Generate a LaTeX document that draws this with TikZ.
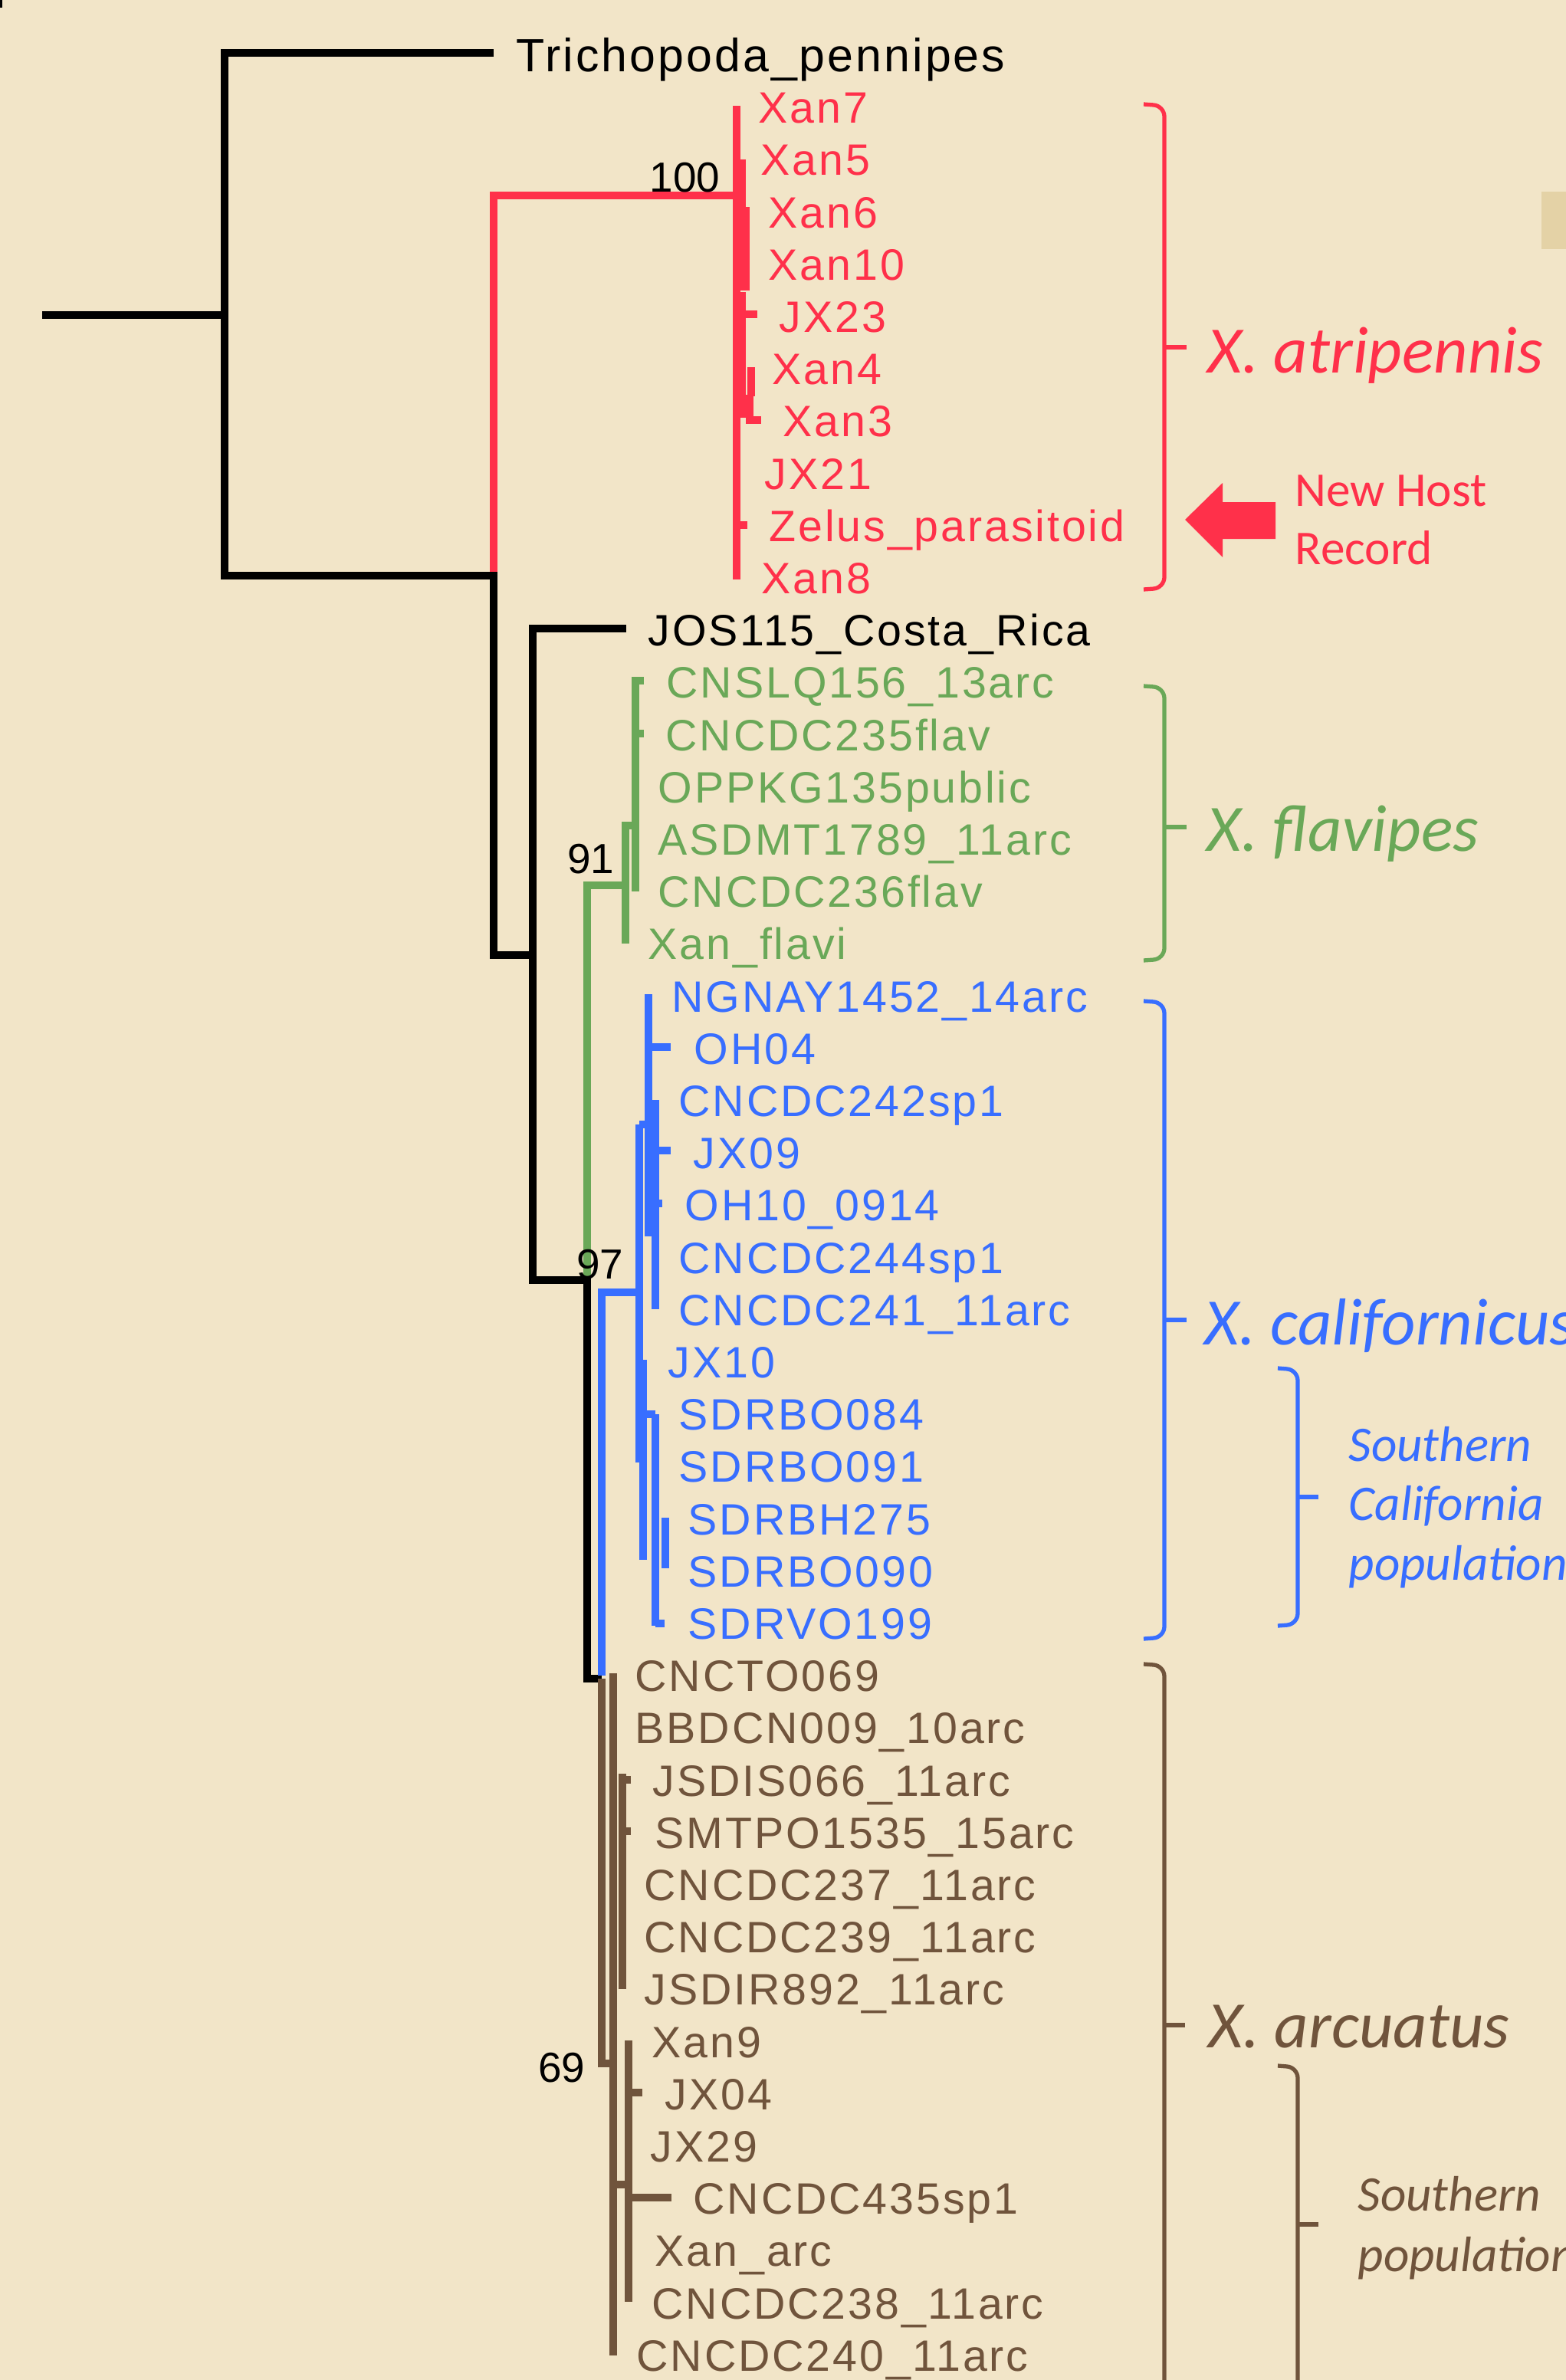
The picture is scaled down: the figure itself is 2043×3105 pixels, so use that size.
\documentclass[tikz,border=0pt]{standalone}
\usepackage{fontspec}
\setmainfont{Liberation Sans}
\newfontfamily\taxfont{Liberation Sans}[LetterSpace=5.0]
\newfontfamily\calfont{Carlito}
\definecolor{bg}{RGB}{242,229,200}
\definecolor{bgdark}{RGB}{228,210,166}
\definecolor{tred}{RGB}{255,48,74}
\definecolor{tgreen}{RGB}{106,168,88}
\definecolor{tblue}{RGB}{56,110,255}
\definecolor{tbrown}{RGB}{112,84,60}
\tikzset{
  br/.style={line width=3.1pt, line join=miter},
  brt/.style={line width=2.9pt, line join=miter},
  nub/.style={line width=2.6pt},
  brace/.style={line width=1.5pt, rounded corners=4pt},
  lab/.style={anchor=base west, inner sep=0pt, font=\taxfont\fontsize{16.3}{19}\selectfont},
  sup/.style={anchor=base east, inner sep=0pt, font=\fontsize{15.6}{18}\selectfont, text=black},
  spec/.style={anchor=base west, inner sep=0pt, font=\calfont\itshape\fontsize{24.6}{30}\selectfont},
  pop/.style={anchor=base west, inner sep=0pt, font=\calfont\itshape\fontsize{18.5}{22}\selectfont},
}
\begin{document}
\begin{tikzpicture}[x=0.01cm, y=-0.01cm]
\fill[bg] (0,0) rectangle (2043,3105);
\useasboundingbox (0,0) rectangle (2043,3105);
\fill[bgdark] (2011,250) rectangle (2043,325);
\fill[black] (0,0) rectangle (3,10);

% ---------- labels ----------
\node[lab, font=\taxfont\fontsize{17.3}{20}\selectfont] (trich) at (673,93) {Trichopoda\_pennipes};
\begin{scope}[every node/.append style={text=tred}]
\node[lab] (xan7) at (989,160) {Xan7};
\node[lab] (xan5) at (992,228) {Xan5};
\node[lab] (xan6) at (1002,297) {Xan6};
\node[lab] (xan10) at (1002,365) {Xan10};
\node[lab] (jx23) at (1016,433) {JX23};
\node[lab] (xan4) at (1007,501) {Xan4};
\node[lab] (xan3) at (1021,569) {Xan3};
\node[lab] (jx21) at (997,638) {JX21};
\node[lab] (zelus) at (1003,706) {Zelus\_parasitoid};
\node[lab] (xan8) at (993,774) {Xan8};
\end{scope}
\node[lab] (jos) at (845,842) {JOS115\_Costa\_Rica};
\begin{scope}[every node/.append style={text=tgreen}]
\node[lab] (cnslq) at (869,910) {CNSLQ156\_13arc};
\node[lab] (c235) at (868,979) {CNCDC235flav};
\node[lab] (oppkg) at (858,1047) {OPPKG135public};
\node[lab] (asdmt) at (858,1115) {ASDMT1789\_11arc};
\node[lab] (c236) at (858,1183) {CNCDC236flav};
\node[lab] (xflavi) at (845,1251) {Xan\_flavi};
\end{scope}
\begin{scope}[every node/.append style={text=tblue}]
\node[lab] (ngnay) at (876,1320) {NGNAY1452\_14arc};
\node[lab] (oh04) at (905,1388) {OH04};
\node[lab] (c242) at (885,1456) {CNCDC242sp1};
\node[lab] (jx09) at (904,1524) {JX09};
\node[lab] (oh10) at (893,1592) {OH10\_0914};
\node[lab] (c244) at (885,1661) {CNCDC244sp1};
\node[lab] (c241) at (885,1729) {CNCDC241\_11arc};
\node[lab] (jx10) at (871,1797) {JX10};
\node[lab] (s084) at (885,1865) {SDRBO084};
\node[lab] (s091) at (885,1933) {SDRBO091};
\node[lab] (s275) at (897,2002) {SDRBH275};
\node[lab] (s090) at (897,2070) {SDRBO090};
\node[lab] (s199) at (897,2138) {SDRVO199};
\end{scope}
\begin{scope}[every node/.append style={text=tbrown}]
\node[lab] (cncto) at (828,2206) {CNCTO069};
\node[lab] (bbdcn) at (828,2274) {BBDCN009\_10arc};
\node[lab] (jsdis) at (851,2343) {JSDIS066\_11arc};
\node[lab] (smtpo) at (854,2411) {SMTPO1535\_15arc};
\node[lab] (c237) at (840,2479) {CNCDC237\_11arc};
\node[lab] (c239) at (840,2547) {CNCDC239\_11arc};
\node[lab] (jsdir) at (840,2615) {JSDIR892\_11arc};
\node[lab] (xan9) at (850,2684) {Xan9};
\node[lab] (jx04) at (867,2752) {JX04};
\node[lab] (jx29) at (848,2820) {JX29};
\node[lab] (c435) at (904,2888) {CNCDC435sp1};
\node[lab] (xanarc) at (854,2956) {Xan\_arc};
\node[lab] (c238) at (850,3025) {CNCDC238\_11arc};
\node[lab] (c240) at (830,3093) {CNCDC240\_11arc};
\end{scope}

% ---------- red clade ----------
\draw[br, tred] (644,751) -- (644,255) -- (961,255);
\draw[br, tred] (961,138) -- (961,756);
\draw[nub, tred] (968,208) -- (968,379);
\draw[nub, tred] (973,270) -- (973,379);
\draw[br, tred] (968,381) -- (968,545);
\draw[nub, tred] (968,410) -- (988,410);
\draw[nub, tred] (980,479) -- (980,517);
\draw[nub, tred] (978,515) -- (978,548) -- (993,548);
\draw[nub, tred] (961,685) -- (975,685);

% ---------- black backbone ----------
\draw[br] (55,411) -- (293,411);
\draw[br] (644,69) -- (293,69) -- (293,751) -- (644,751) -- (644,1246) -- (695,1246);
\draw[br] (817,820) -- (695,820) -- (695,1670) -- (766,1670);

% ---------- green clade ----------
\draw[brt, tgreen] (766,1670) -- (766,1155) -- (816,1155);
\draw[brt, tgreen] (816,1072) -- (816,1231);
\draw[brt, tgreen] (816,1077) -- (829,1077);
\draw[brt, tgreen] (829,883) -- (829,1163);
\draw[nub, tgreen] (829,888) -- (840,888);
\draw[nub, tgreen] (829,957) -- (840,957);

% black continues
\draw[br] (766,1665) -- (766,2190) -- (785,2190);

% ---------- blue clade ----------
\draw[brt, tblue] (785,2186) -- (785,1686) -- (837,1686);
\draw[brt, tblue] (834,1467) -- (834,1908);
\draw[brt, tblue] (834,1467) -- (846,1467);
\draw[brt, tblue] (846,1297) -- (846,1613);
\draw[brt, tblue] (855,1435) -- (855,1708);
\draw[brt, tblue] (846,1366) -- (875,1366);
\draw[brt, tblue] (855,1501) -- (875,1501);
\draw[nub, tblue] (855,1570) -- (864,1570);
\draw[brt, tblue] (839,1774) -- (839,2035);
\draw[brt, tblue] (839,1845) -- (855,1845);
\draw[brt, tblue] (855,1845) -- (855,2121);
\draw[brt, tblue] (868,1980) -- (868,2046);
\draw[brt, tblue] (855,2118) -- (867,2118);

% ---------- brown clade ----------
\draw[brt, tbrown] (785,2190) -- (785,2692) -- (801,2692);
\draw[brt, tbrown] (800,2183) -- (800,3073);
\draw[brt, tbrown] (812,2314) -- (812,2595);
\draw[nub, tbrown] (812,2322) -- (823,2322);
\draw[nub, tbrown] (812,2389) -- (823,2389);
\draw[brt, tbrown] (820,2662) -- (820,3003);
\draw[brt, tbrown] (820,2730) -- (838,2730);
\draw[brt, tbrown] (800,2850) -- (820,2850);
\draw[brt, tbrown] (820,2867) -- (876,2867);

% ---------- support values ----------
\node[sup] (s100) at (940,250) {100};
\node[sup] (s91) at (802,1139) {91};
\node[sup] (s97) at (814,1668) {97};
\node[sup] (s69) at (764,2716) {69};

% ---------- brackets ----------
\draw[brace, tred] (1492,136) -- (1519,138) -- (1519,767) -- (1492,769);
\draw[line width=1.5pt, tred] (1519,453) -- (1548,453);
\draw[brace, tgreen] (1492,895) -- (1519,897) -- (1519,1251) -- (1492,1253);
\draw[line width=1.5pt, tgreen] (1519,1079) -- (1548,1079);
\draw[brace, tblue] (1492,1306) -- (1519,1308) -- (1519,2136) -- (1492,2138);
\draw[line width=1.5pt, tblue] (1519,1722) -- (1548,1722);
\draw[brace, tblue] (1667,1785) -- (1693,1787) -- (1693,2119) -- (1667,2121);
\draw[line width=1.5pt, tblue] (1693,1953) -- (1720,1953);
\draw[brace, tbrown] (1492,2171) -- (1519,2173) -- (1519,3140);
\draw[line width=1.5pt, tbrown] (1519,2642) -- (1546,2642);
\draw[brace, tbrown] (1667,2695) -- (1693,2697) -- (1693,3140);
\draw[line width=1.5pt, tbrown] (1693,2902) -- (1720,2902);

% ---------- clade names ----------
\node[spec, text=tred] (atri) at (1575,486) {X. atripennis};
\node[spec, text=tgreen] (flav) at (1574,1110) {X. flavipes};
\node[spec, text=tblue] (cali) at (1571,1754) {X. californicus};
\node[spec, text=tbrown] (arcu) at (1576,2671) {X. arcuatus};
\node[pop, text=tblue] (scp1) at (1759,1906) {Southern};
\node[pop, text=tblue] (scp2) at (1759,1983) {California};
\node[pop, text=tblue] (scp3) at (1759,2061) {population};
\node[pop, text=tbrown] (sp1) at (1771,2884) {Southern};
\node[pop, text=tbrown] (sp2) at (1771,2963) {population};

% ---------- new host record ----------
\fill[tred] (1546,678) -- (1595,630) -- (1595,655) -- (1664,655) -- (1664,703) -- (1595,703) -- (1595,727) -- cycle;
\node[anchor=base west, inner sep=0pt, text=tred, font=\calfont\fontsize{18}{22}\selectfont] (nh1) at (1689,660) {New Host};
\node[anchor=base west, inner sep=0pt, text=tred, font=\calfont\fontsize{18}{22}\selectfont] (nh2) at (1689,736) {Record};
\end{tikzpicture}
\end{document}
